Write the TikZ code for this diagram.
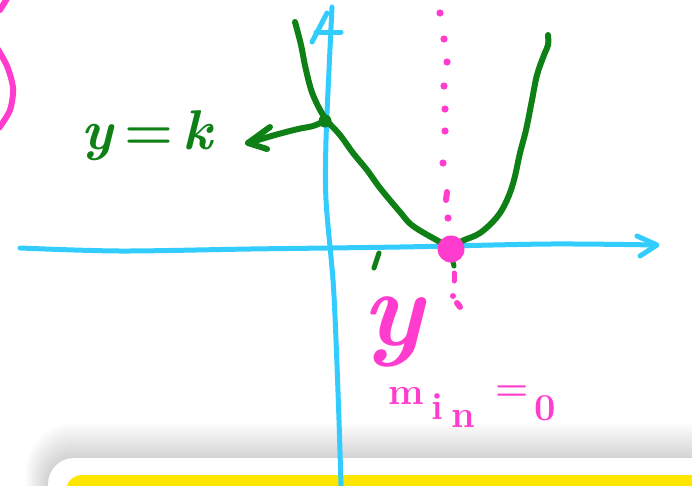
\documentclass[tikz,border=0pt]{standalone}
\usepackage{fontspec}
\definecolor{skyb}{RGB}{51,204,255}
\definecolor{grn}{RGB}{14,128,22}
\definecolor{pnk}{RGB}{255,60,205}
\definecolor{ylw}{RGB}{255,230,0}
\tikzset{
  axisline/.style={skyb, line width=5pt},
  curveline/.style={grn, line width=6pt},
  pinkline/.style={pnk, line width=6pt},
  greenlabel/.style={text=grn, inner sep=0pt},
  pinklabel/.style={text=pnk, inner sep=0pt},
  subletter/.style={pinklabel, font=\fontsize{38}{38}\selectfont\bfseries}
}
\begin{document}
\begin{tikzpicture}[x=1pt,y=-1pt,line cap=round,line join=round]
\useasboundingbox (0,0) rectangle (692,485);
\clip (0,0) rectangle (692,485);
\fill[white] (0,0) rectangle (692,485);
% bottom panel shadow
\foreach \i in {0,...,11}{
  \pgfmathsetmacro\rr{26+2*\i}
  \fill[black,opacity=0.017,rounded corners=\rr pt] (48-2*\i,460-3.3*\i) rectangle (760,560);
}
\fill[white,rounded corners=26pt] (48,458) rectangle (760,560);
\fill[ylw,rounded corners=16pt] (66,475) rectangle (760,560);
% pink arc at left edge
\draw[pinkline] plot[smooth] coordinates {(-3,48) (7,66) (13,88) (10,110) (-1,128)};
\draw[pinkline] (8,-3) -- (0,10);
% axes
\draw[axisline] plot[smooth] coordinates {(20,248) (120,251) (250,249) (400,247) (550,244) (656,245)};
\draw[axisline] (637,236) -- (657,245) -- (640,256);
\draw[axisline] plot[smooth] coordinates {(341,485) (339,420) (336,340) (333,280) (326,200) (326,140) (329,70) (332,7)};
\draw[axisline] (312,42) -- (327,13);
\draw[axisline] (316,32) -- (341,32);
% pink dotted line
\foreach \p in {(440,13),(444,39),(447,62),(444,86),(445,109),(445,131),(443,163),(448,218)}
  \fill[pnk] \p circle (3.6);
\draw[pinkline] (447,192) -- (446,200);
% parabola
\draw[curveline] plot[smooth,tension=0.6] coordinates {(295,22) (301,45) (306,70) (313,95) (325,118) (340,135) (353,153) (367,170) (380,188) (400,212) (413,226) (440,242) (451,248)};
\draw[curveline] plot[smooth,tension=0.6] coordinates {(451,248) (462,241) (480,233) (497,217) (507,200) (514,180) (520,153) (526,130) (532,100) (537,75) (544,55) (548,45) (548,35)};
\draw[curveline, line width=5pt] (452,258) -- (454,266);
\draw[curveline, line width=5pt] (379,253) -- (374,268);
% intercept dot and arrow
\coordinate (ydot) at (325,121);
\coordinate (tip) at (248,143);
\fill[grn] (ydot) circle (6.5);
\draw[curveline] plot[smooth] coordinates {(ydot) (313,126) (298,129) (275,135) (tip)};
\draw[curveline] (270,127) -- (tip) -- (267,149);
% vertex
\draw[pinkline, line width=5pt] (454,273) -- (454,281);
\fill[pnk] (453,296) circle (3);
\draw[pinkline] (457,303) -- (460,307);
\fill[pnk] (451,249) circle (13.5);
% labels
\node[greenlabel, font=\fontsize{56}{56}\selectfont\bfseries] (yk) at (148,136) {\textit{y}\,=\,\textit{k}};
\node[pinklabel, font=\fontsize{108}{108}\selectfont\bfseries] (yv) at (395,332) {\textit{y}};
\node[subletter] (m1) at (406,396) {m};
\node[subletter] (m2) at (437,407) {i};
\node[subletter] (m3) at (463,419) {n};
\node[subletter] (e1) at (512,393) {=};
\node[subletter] (e2) at (545,408) {0};
\end{tikzpicture}
\end{document}
